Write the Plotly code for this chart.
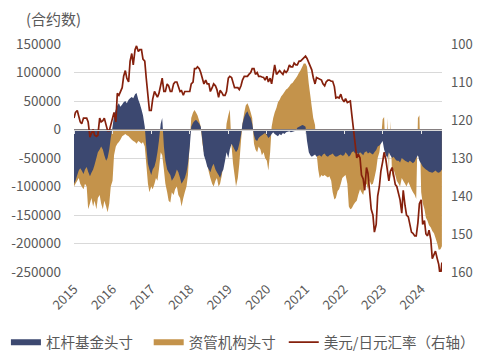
import pandas as pd
import plotly.graph_objects as go

# semi-monthly observation dates (1st and 15th of each month)
dates = pd.date_range("2015-01-01", "2024-07-15", freq="SMS")

# 杠杆基金头寸 (thousand contracts)
lev_k = (
    [-95, -90, -80, -72, -68, -72, -78, -70, -66, -74, -82, -76, -70, -62, -50, -40, -35, -30, -35, -45, -55, -50, -35, -15]
    + [5, 25, 35, 42, 46, 40, 44, 48, 50, 46, 52, 55, 57, 55, 62, 64, 52, 45, 35, 25, 5, -30, -60, -70]
    + [-80, -70, -65, -55, -40, -20, 10, 20, -30, -55, -70, -75, -80, -90, -85, -80, -70, -75, -85, -95, -90, -85, -75, -60]
    + [-30, 5, 12, 15, 17, 14, 10, 5, -20, -45, -55, -65, -70, -75, -65, -60, -70, -75, -80, -85, -75, -70, -55, -40]
    + [-50, -35, -25, -30, -35, -40, -35, -25, -10, 10, 22, 28, 32, 25, 20, 10, -10, -18, -20, -15, -12, -10, -8, -6]
    + [-10, -15, -12, -8, -5, -8, -10, -12, -8, -10, -6, -8, -5, -4, -3, -5, -4, -3, -2, 3, 5, 6, 8, 7]
    + [5, -20, -40, -45, -48, -46, -44, -48, -46, -45, -48, -44, -42, -46, -48, -45, -44, -42, -46, -48, -47, -45, -44, -46]
    + [-45, -40, -44, -48, -45, -40, -38, -42, -40, -44, -40, -42, -45, -40, -38, -42, -40, -42, -44, -40, -36, -30, -28, -25]
    + [-20, -35, -45, -50, -40, -45, -50, -48, -52, -55, -55, -58, -50, -52, -55, -56, -58, -55, -57, -59, -56, -50, -45, -55]
    + [-60, -65, -68, -70, -72, -74, -75, -76, -74, -72, -75, -76, -74, -70]
)

# 资管机构头寸 (thousand contracts)
am_k = (
    [-100, -95, -90, -85, -95, -100, -105, -95, -100, -140, -130, -120, -135, -125, -140, -120, -115, -130, -140, -125, -135, -145, -130, -100]
    + [-90, -45, -30, -25, -22, -18, -12, -10, -8, -10, -12, -15, -18, -20, -22, -25, -20, -22, -25, -22, -30, -60, -95, -110]
    + [-100, -105, -95, -85, -90, -70, -40, -45, -70, -95, -110, -125, -128, -110, -115, -105, -100, -115, -120, -135, -120, -110, -100, -80]
    + [-20, 20, 30, 34, 30, 25, 15, 5, -25, -40, -45, -60, -75, -85, -95, -100, -90, -85, -100, -95, -80, -60, -30, 10]
    + [25, 35, -30, -60, -80, -100, -85, -60, -20, 10, 30, 42, 46, 40, 30, 20, -25, -35, -40, -30, -35, -45, -40, -50]
    + [-55, -72, -40, 5, 20, 30, 38, 48, 52, 58, 62, 66, 70, 72, 76, 80, 82, 86, 90, 94, 100, 104, 110, 116]
    + [116, 110, 80, 60, 40, 20, 8, -40, -70, -85, -80, -82, -80, -82, -84, -82, -90, -110, -123, -120, -108, -105, -95, -85]
    + [-82, -80, -95, -135, -140, -138, -132, -128, -125, -115, -105, -110, -115, -100, -95, -105, -90, -97, -95, -85, -70, -50, -40, -20]
    + [18, 22, -60, 20, -75, 15, -85, -70, -80, -90, -95, -100, -85, -90, -95, -100, -92, -98, -105, -110, -115, -122, 20, 25]
    + [-110, -129, -140, -155, -160, -168, -172, -178, -182, -190, -200, -211, -210, -205]
)

# 美元/日元汇率
usdjpy = (
    [119.5, 118.0, 117.5, 119.0, 120.5, 121.0, 119.5, 119.5, 119.5, 120.5, 124.5, 123.5, 122.5, 124.0, 124.3, 124.0, 119.5, 120.5, 120.2, 119.5, 121.5, 122.8, 122.8, 121.5]
    + [119.5, 118.0, 120.5, 113.0, 113.5, 112.5, 111.5, 108.5, 107.0, 109.0, 110.0, 104.5, 102.5, 105.5, 101.5, 100.5, 102.0, 101.5, 101.5, 104.0, 104.5, 109.0, 113.5, 117.5]
    + [117.5, 114.5, 112.5, 113.5, 114.0, 113.0, 111.0, 109.0, 112.5, 112.5, 110.5, 111.0, 112.5, 112.5, 110.5, 110.0, 110.0, 111.5, 112.5, 112.3, 113.5, 112.5, 112.5, 112.5]
    + [112.5, 110.5, 110.0, 106.5, 106.5, 106.0, 106.5, 107.5, 109.5, 110.5, 109.5, 110.5, 110.5, 112.5, 111.5, 110.5, 111.0, 112.0, 114.0, 112.2, 112.8, 113.5, 113.5, 112.5]
    + [109.0, 108.5, 108.8, 110.5, 111.5, 111.5, 111.5, 112.0, 111.0, 109.5, 108.5, 108.5, 108.5, 108.0, 107.5, 106.5, 106.5, 108.0, 107.5, 108.5, 108.5, 108.7, 108.8, 109.5]
    + [108.5, 110.0, 109.0, 110.5, 107.5, 105.5, 108.0, 107.5, 107.0, 107.5, 108.0, 107.0, 107.5, 107.0, 105.5, 106.0, 106.0, 105.0, 105.5, 105.5, 104.5, 104.5, 104.0, 103.5]
    + [103.2, 103.8, 105.0, 105.5, 106.8, 108.8, 110.5, 108.8, 109.0, 109.3, 109.5, 110.5, 111.0, 110.0, 109.5, 109.5, 109.8, 109.8, 111.2, 114.2, 114.0, 114.2, 113.2, 114.5]
    + [115.2, 114.4, 115.4, 115.2, 115.0, 118.6, 122.8, 126.4, 130.0, 129.0, 130.0, 134.5, 135.5, 138.5, 132.5, 134.0, 139.0, 143.5, 145.0, 149.5, 147.5, 140.0, 137.5, 133.5]
    + [131.0, 128.5, 130.5, 134.0, 136.0, 133.5, 132.5, 134.5, 137.0, 137.5, 139.5, 141.0, 144.5, 138.5, 142.5, 145.0, 145.5, 147.5, 149.5, 149.8, 150.5, 150.5, 147.0, 142.0]
    + [141.0, 147.5, 146.5, 150.0, 150.5, 149.0, 151.5, 156.5, 155.2, 154.5, 156.5, 158.0, 161.5, 157.5]
)

lev = [v * 1000 for v in lev_k]
am = [v * 1000 for v in am_k]

left_ticks = [-250000, -200000, -150000, -100000, -50000, 0, 50000, 100000, 150000]
left_labels = [str(v) for v in left_ticks]
right_ticks = [100, 110, 120, 130, 140, 150, 160]
year_ticks = [f"{y}-01-01" for y in range(2015, 2025)]
year_labels = [str(y) for y in range(2015, 2025)]

NAVY = "#3C4870"
TAN = "#C4934B"
RED = "#85200C"
GRID = "#D9D9D9"
TXT = "#595959"
FONT = "Noto Sans CJK SC, Liberation Sans, sans-serif"
XRANGE = ["2015-01-01", "2024-07-16"]

fig = go.Figure()
fig.add_trace(go.Scatter(x=dates, y=am, name="资管机构头寸", fill="tozeroy",
                         mode="none", fillcolor=TAN, legend="legend2"))
fig.add_trace(go.Scatter(x=dates, y=lev, name="杠杆基金头寸", fill="tozeroy",
                         mode="none", fillcolor=NAVY, legend="legend"))
fig.add_trace(go.Scatter(x=dates, y=usdjpy, name="美元/日元汇率（右轴）",
                         mode="lines", line=dict(color=RED, width=1.7),
                         xaxis="x2", yaxis="y2", legend="legend3"))

leg_common = dict(orientation="h", yanchor="middle", y=-0.308, xanchor="left",
                  font=dict(size=14.5, color=TXT), itemwidth=30,
                  bgcolor="rgba(0,0,0,0)")

fig.update_layout(
    width=473, height=350,
    margin=dict(l=66, r=39, t=36, b=86, autoexpand=False),
    paper_bgcolor="white", plot_bgcolor="white",
    font=dict(family=FONT, size=12, color=TXT),
    showlegend=True,
    legend=dict(x=-0.185, **leg_common),
    legend2=dict(x=0.203, **leg_common),
    legend3=dict(x=0.57, **leg_common),
    xaxis=dict(type="date", range=XRANGE, tickvals=year_ticks, ticktext=year_labels,
               tickangle=-45, showgrid=False, showline=False, zeroline=False,
               automargin=False, ticks="", ticklabelstandoff=6,
               tickfont=dict(size=13, color=TXT)),
    xaxis2=dict(type="date", range=XRANGE, overlaying="x", anchor="free", position=0.625,
                matches="x", showline=True, linecolor=GRID, linewidth=1,
                tickvals=year_ticks, ticks="outside", ticklen=3, tickcolor="#E6E6E6",
                showticklabels=False, showgrid=False, zeroline=False, automargin=False),
    yaxis=dict(range=[-250000, 150000], tickvals=left_ticks, ticktext=left_labels,
               showgrid=True, gridcolor=GRID, gridwidth=1, zeroline=False,
               showline=False, ticks="", ticklabelstandoff=12, automargin=False,
               tickfont=dict(size=13.5, color=TXT)),
    yaxis2=dict(range=[160, 100], tickvals=right_ticks, overlaying="y", side="right",
                anchor="x2", showgrid=False, zeroline=False, showline=False, ticks="",
                ticklabelstandoff=8, automargin=False,
                tickfont=dict(size=13, color=TXT)),
    annotations=[dict(text="(合约数)", xref="paper", yref="paper", x=-0.135, y=1.114,
                      xanchor="left", yanchor="middle", showarrow=False,
                      font=dict(size=15, color=TXT))],
)

fig.write_html("out.html")
